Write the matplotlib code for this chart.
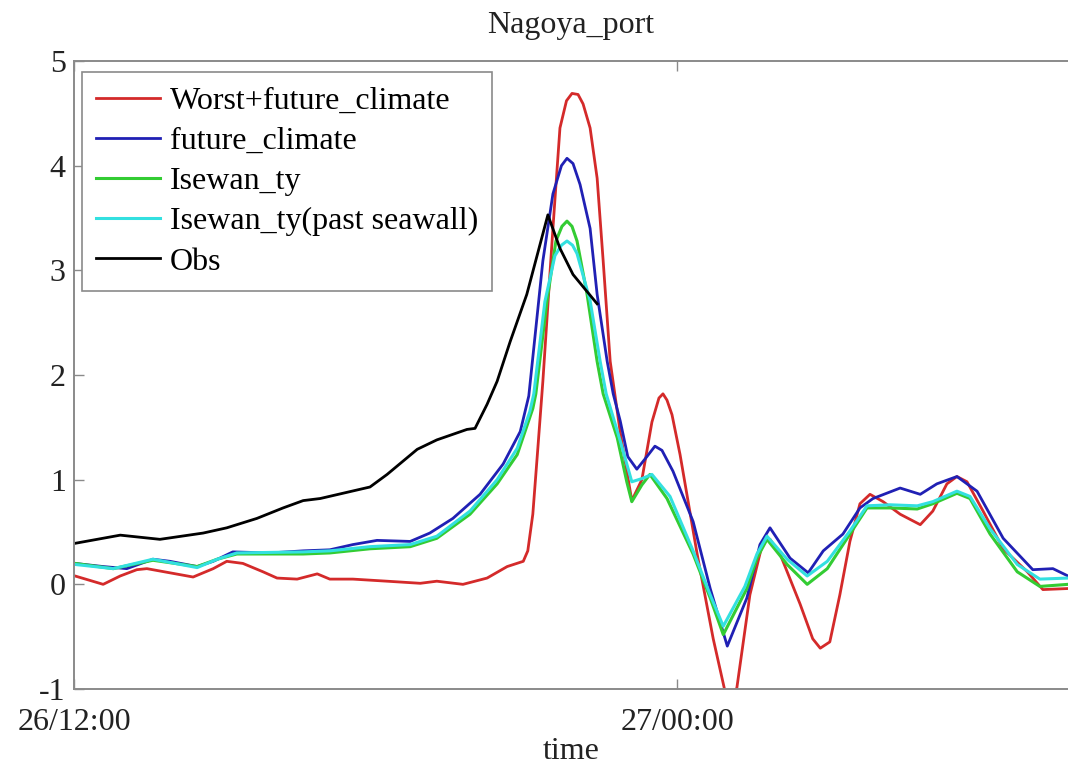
import numpy as np
import matplotlib
matplotlib.use('Agg')
import matplotlib.pyplot as plt

# Nagoya_port: tidal level, hours after 26/12:00

# Observed
t_obs = [0, 0.92, 1.71, 2.57, 3.04, 3.64, 4.16, 4.56, 4.90, 5.89, 6.23, 6.83,
         7.22, 7.82, 7.98, 8.22, 8.42, 8.68, 9.01, 9.43, 9.67, 9.93, 10.41]
v_obs = [0.39, 0.47, 0.43, 0.49, 0.54, 0.63, 0.73, 0.80, 0.82, 0.93, 1.05, 1.29,
         1.38, 1.48, 1.49, 1.72, 1.94, 2.32, 2.77, 3.53, 3.21, 2.96, 2.68]

# Worst+future_climate
t_red = [0.02, 0.58, 0.92, 1.25, 1.45, 1.91, 2.37, 2.77, 3.04, 3.36, 3.76, 4.04,
         4.44, 4.84, 5.09, 5.55, 6.23, 6.89, 7.22, 7.74, 8.22, 8.62, 8.94, 9.03,
         9.13, 9.23, 9.33, 9.53, 9.67, 9.80, 9.91, 10.03, 10.13, 10.27, 10.41,
         10.53, 10.67, 10.87, 11.10, 11.30, 11.50, 11.64, 11.72, 11.80, 11.90,
         12.06, 12.40, 12.72, 13.00, 13.19, 13.45, 13.71, 13.85, 14.05, 14.45,
         14.70, 14.85, 15.04, 15.24, 15.44, 15.64, 15.84, 16.10, 16.44, 16.84,
         17.09, 17.37, 17.57, 17.77, 18.09, 18.49, 18.97, 19.28, 19.78]
v_red = [0.08, 0.00, 0.08, 0.14, 0.15, 0.11, 0.07, 0.15, 0.22, 0.20, 0.12, 0.06,
         0.05, 0.10, 0.05, 0.05, 0.03, 0.01, 0.03, 0.00, 0.06, 0.17, 0.22, 0.32,
         0.67, 1.30, 1.94, 3.40, 4.36, 4.62, 4.69, 4.68, 4.59, 4.36, 3.88,
         3.09, 2.13, 1.45, 0.80, 1.00, 1.55, 1.78, 1.82, 1.76, 1.62,
         1.24, 0.29, -0.52, -1.12, -0.99, -0.10, 0.41, 0.43, 0.29, -0.19,
         -0.52, -0.61, -0.55, -0.10, 0.41, 0.77, 0.86, 0.79, 0.67, 0.57,
         0.70, 0.96, 1.03, 0.98, 0.70, 0.34, 0.12, -0.05, -0.04]

# future_climate
t_blue = [0.02, 0.58, 1.05, 1.57, 1.91, 2.45, 2.77, 3.16, 3.90, 4.56, 5.09, 5.55,
          6.03, 6.69, 7.08, 7.54, 8.08, 8.54, 8.88, 9.05, 9.33, 9.53, 9.70, 9.81,
          9.93, 10.07, 10.27, 10.41, 10.61, 10.73, 10.87, 11.02, 11.20, 11.40,
          11.56, 11.70, 11.92, 12.32, 12.66, 13.00, 13.39, 13.65, 13.85, 14.25,
          14.61, 14.91, 15.30, 15.64, 15.90, 16.44, 16.84, 17.17, 17.57, 17.97,
          18.49, 19.08, 19.48, 19.78]
v_blue = [0.20, 0.17, 0.15, 0.24, 0.22, 0.17, 0.22, 0.31, 0.30, 0.32, 0.33, 0.38,
          0.42, 0.41, 0.49, 0.63, 0.86, 1.15, 1.46, 1.80, 3.09, 3.73, 4.00, 4.07,
          4.02, 3.82, 3.40, 2.77, 2.13, 1.82, 1.56, 1.22, 1.10, 1.22,
          1.32, 1.28, 1.08, 0.60, -0.04, -0.59, -0.13, 0.38, 0.54, 0.25,
          0.11, 0.32, 0.48, 0.73, 0.82, 0.92, 0.86, 0.96, 1.03, 0.89,
          0.44, 0.14, 0.15, 0.08]

# Isewan_ty
t_green = [0.02, 0.78, 1.57, 2.45, 2.85, 3.24, 4.56, 5.09, 5.89, 6.69, 7.22, 7.88,
           8.42, 8.82, 9.13, 9.19, 9.41, 9.59, 9.71, 9.81, 9.91, 10.01, 10.21,
           10.41, 10.53, 10.81, 11.00, 11.10, 11.30, 11.46, 11.80, 12.32, 12.66,
           12.92, 13.39, 13.59, 13.79, 14.19, 14.59, 14.99, 15.44, 15.78, 16.24,
           16.78, 17.09, 17.57, 17.83, 18.23, 18.77, 19.22, 19.78]
v_green = [0.20, 0.15, 0.23, 0.17, 0.24, 0.29, 0.29, 0.30, 0.34, 0.36, 0.44, 0.67,
           0.96, 1.24, 1.68, 1.82, 2.70, 3.28, 3.42, 3.47, 3.42, 3.28, 2.77,
           2.13, 1.82, 1.40, 0.98, 0.79, 0.95, 1.05, 0.82, 0.29, -0.13,
           -0.48, -0.04, 0.25, 0.43, 0.19, 0.00, 0.15, 0.48, 0.73, 0.73,
           0.72, 0.77, 0.87, 0.82, 0.48, 0.12, -0.02, 0.00]

# Isewan_ty(past seawall)
t_cyan = [0.02, 0.78, 1.57, 2.45, 2.85, 3.24, 4.56, 5.09, 5.89, 6.69, 7.22, 7.88,
          8.42, 8.82, 9.07, 9.15, 9.37, 9.57, 9.70, 9.81, 9.92, 10.01, 10.27,
          10.47, 10.59, 10.87, 11.10, 11.30, 11.50, 11.86, 12.32, 12.66, 12.92,
          13.35, 13.59, 13.79, 14.19, 14.59, 14.99, 15.44, 15.78, 16.24, 16.78,
          17.09, 17.57, 17.83, 18.23, 18.77, 19.22, 19.78]
v_cyan = [0.19, 0.15, 0.24, 0.16, 0.24, 0.30, 0.31, 0.32, 0.36, 0.38, 0.46, 0.70,
          1.00, 1.30, 1.65, 1.82, 2.70, 3.14, 3.24, 3.28, 3.24, 3.16, 2.71,
          2.13, 1.82, 1.37, 0.98, 1.01, 1.05, 0.84, 0.32, -0.10, -0.40,
          -0.02, 0.29, 0.46, 0.24, 0.08, 0.22, 0.51, 0.75, 0.76, 0.75,
          0.79, 0.89, 0.84, 0.53, 0.19, 0.05, 0.06]

labels = ['Worst+future_climate', 'future_climate', 'Isewan_ty',
          'Isewan_ty(past seawall)', 'Obs']
xticks = [0, 12]
xticklabels = ['26/12:00', '27/00:00']

plt.rcParams['font.family'] = ['Liberation Serif', 'DejaVu Serif']
plt.rcParams['font.size'] = 23
plt.rcParams['axes.unicode_minus'] = False

fig = plt.figure(figsize=(10.68, 7.66), dpi=100)
ax = fig.add_axes([0.0693, 0.1005, 0.9307, 0.8199])

ax.plot(t_red, v_red, color='#d42a2a', lw=2.0, label=labels[0])
ax.plot(t_blue, v_blue, color='#2020b4', lw=2.0, label=labels[1])
ax.plot(t_green, v_green, color='#33cc33', lw=2.2, label=labels[2])
ax.plot(t_cyan, v_cyan, color='#33e0e0', lw=2.2, label=labels[3])
ax.plot(t_obs, v_obs, color='black', lw=2.0, label=labels[4])

ax.set_xlim(0, 19.78)
ax.set_ylim(-1, 5)
ax.set_xticks(xticks)
ax.set_xticklabels(xticklabels)
ax.set_yticks(range(-1, 6))

for s in ['left', 'bottom', 'top']:
    ax.spines[s].set_color('#8a8a8a')
    ax.spines[s].set_linewidth(1.4)
ax.spines['right'].set_visible(False)
ax.tick_params(direction='in', length=7, width=1, color='#8a8a8a',
               labelcolor='#222222', top=True)
ax.tick_params(axis='x', pad=14)
ax.tick_params(axis='y', pad=6)

ax.set_title('Nagoya_port', fontsize=23, pad=20, color='#222222')
ax.set_xlabel('time', fontsize=23, labelpad=0, color='#222222')

leg = ax.legend(loc='upper left', bbox_to_anchor=(0.008, 0.9825),
                borderaxespad=0, fontsize=23, handlelength=2.0,
                handletextpad=0.3, labelspacing=0.34, borderpad=0.45,
                fancybox=False, framealpha=1)
leg.get_frame().set_edgecolor('#8a8a8a')
leg.get_frame().set_linewidth(1.2)

fig.savefig('out.png', dpi=100)
